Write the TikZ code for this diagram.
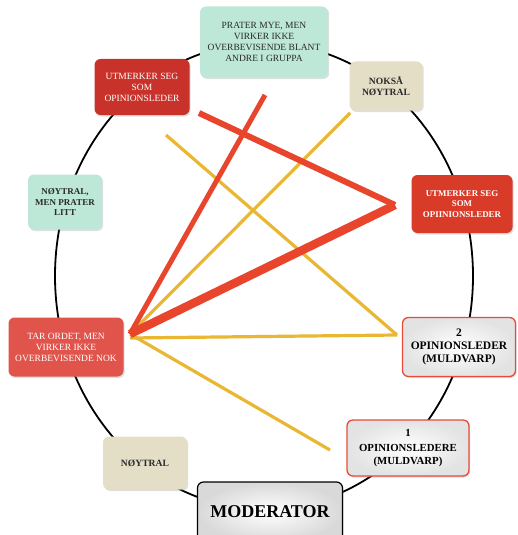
\documentclass[tikz,border=0pt]{standalone}
\usepackage{fontspec}
\setmainfont{Liberation Serif}
\usetikzlibrary{shadows}
\definecolor{mint}{HTML}{BDE7D7}
\definecolor{beige}{HTML}{E4DEC7}
\definecolor{darkred}{HTML}{C8322A}
\definecolor{brightred}{HTML}{D93B29}
\definecolor{softred}{HTML}{E0544B}
\definecolor{linered}{HTML}{E8452C}
\definecolor{lineyellow}{HTML}{E9B731}
\definecolor{frame}{HTML}{E84B3A}
\definecolor{txt}{HTML}{2A2A2A}
\tikzset{
  box/.style={rounded corners=6pt, align=center, inner sep=1pt,
    drop shadow={shadow xshift=1.2pt, shadow yshift=-1.5pt, opacity=0.25}},
  mintbox/.style={box, fill=mint, text=txt},
  beigebox/.style={box, fill=beige, text=txt},
  redbox/.style={box, fill=#1, text=white},
  leaderbox/.style={box, draw=frame, line width=1.3pt, inner color=white, outer color=gray!22, text=black},
  small/.style={font=\fontsize{9.5}{11}\selectfont},
  smallbf/.style={font=\fontsize{9.6}{11}\selectfont\bfseries},
  redlink/.style={draw=linered, line width=#1},
  yellowlink/.style={draw=lineyellow, line width=3.2pt},
}
\begin{document}
\begin{tikzpicture}[x=1pt,y=-1pt]
\useasboundingbox (0,0) rectangle (518,535);
\fill[white] (0,0) rectangle (518,535);

% the ring joining all participants
\draw[line width=1.8pt] (264,276) ellipse [x radius=209, y radius=233];

% end points of the links
\coordinate (hub) at (130,334);
\coordinate (hubB) at (130,338);
\coordinate (topEnd) at (265,95);
\coordinate (utmL) at (199,113);
\coordinate (utmR) at (395,205);
\coordinate (yelA) at (350,113);
\coordinate (yelB) at (166,135);
\coordinate (op2) at (397,335);
\coordinate (op1) at (330,450);

% links
\draw[yellowlink] (hub) -- (yelA);
\draw[yellowlink] (yelB) -- (op2);
\draw[yellowlink] (hubB) -- (op2);
\draw[yellowlink] (hub) -- (op1);
\draw[redlink=5pt] (hub) -- (topEnd);
\draw[redlink=6pt] (utmL) -- (utmR);
\draw[redlink=8.5pt] (hub) -- (utmR);

% participants
\node[mintbox, small, minimum width=128pt, minimum height=71pt] (top) at (264,42)
  {PRATER MYE, MEN\\VIRKER IKKE\\OVERBEVISENDE BLANT\\ANDRE I GRUPPA};
\node[redbox=darkred, small, minimum width=95pt, minimum height=56pt] (utmerkerL) at (142,87)
  {UTMERKER SEG\\SOM\\OPINIONSLEDER};
\node[beigebox, smallbf, minimum width=73pt, minimum height=49pt] (noksa) at (386,86)
  {NOKSÅ\\NØYTRAL};
\node[mintbox, font=\fontsize{9}{10.8}\selectfont\bfseries, minimum width=74pt, minimum height=55pt] (noytralPrater) at (65,202)
  {NØYTRAL,\\MEN PRATER\\LITT};
\node[redbox=brightred, font=\fontsize{8.9}{10.4}\selectfont\bfseries, minimum width=101pt, minimum height=58pt] (utmerkerR) at (462,204)
  {UTMERKER SEG\\SOM\\OPIINIONSLEDER};
\node[redbox=softred, small, minimum width=115pt, minimum height=59pt] (tarordet) at (66,347)
  {TAR ORDET, MEN\\VIRKER IKKE\\OVERBEVISENDE NOK};
\node[leaderbox, font=\fontsize{11.5}{12.8}\selectfont\bfseries, minimum width=113pt, minimum height=59pt] (leder2) at (459,347)
  {2\\OPINIONSLEDER\\(MULDVARP)};
\node[leaderbox, font=\fontsize{10.8}{12.6}\selectfont\bfseries, minimum width=122pt, minimum height=56pt] (leder1) at (408,448)
  {1\\[2pt]OPINIONSLEDERE\\(MULDVARP)};
\node[beigebox, smallbf, minimum width=84pt, minimum height=53pt] (noytral) at (145,463)
  {NØYTRAL};
\node[box, draw=black, line width=1.2pt, inner color=white, outer color=gray!30,
  font=\fontsize{18}{21}\selectfont\bfseries, minimum width=145pt, minimum height=60pt]
  (moderator) at (270,512) {MODERATOR};
\end{tikzpicture}
\end{document}
